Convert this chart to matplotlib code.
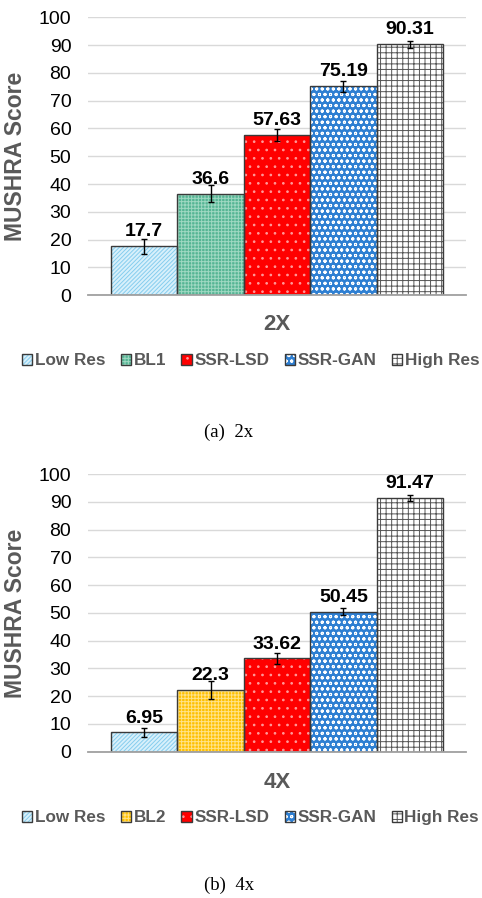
import matplotlib
matplotlib.use("Agg")
import matplotlib.pyplot as plt
import numpy as np

plt.rcParams['font.family'] = ['Liberation Sans', 'DejaVu Sans']
plt.rcParams['hatch.linewidth'] = 0.7

# data
names_2x = ['Low Res', 'BL1', 'SSR-LSD', 'SSR-GAN', 'High Res']
scores_2x = [17.7, 36.6, 57.63, 75.19, 90.31]
errs_2x = [2.7, 3.2, 2.2, 1.9, 1.3]

names_4x = ['Low Res', 'BL2', 'SSR-LSD', 'SSR-GAN', 'High Res']
scores_4x = [6.95, 22.3, 33.62, 50.45, 91.47]
errs_4x = [1.7, 3.3, 2.1, 1.3, 1.1]

yticks = list(range(0, 101, 10))

# style per bar: face, hatch, hatch colour
styles_2x = [('#d8f0fb', '////////', '#86cdee'),
             ('#55b594', '+++++', '#9fd8c2'),
             ('#ff0000', '..', '#ff9a9a'),
             ('#2e7fd2', 'ooo', '#ffffff'),
             ('#ffffff', '+++', '#555555')]
styles_4x = [styles_2x[0],
             ('#ffc000', '+++++', '#ffe38a'),
             styles_2x[2], styles_2x[3], styles_2x[4]]

fig = plt.figure(figsize=(4.82, 8.98), dpi=100)
gray_txt = '#595959'


def draw(ax, names, scores, errs, styles, title, title_y, leg_y, cap, cap_y):
    x = np.arange(len(scores))
    handles = []
    for i in range(len(scores)):
        face, h, hc = styles[i]
        b1 = ax.bar(x[i], scores[i], width=1.0, color=face, hatch=h,
                    edgecolor=hc, linewidth=0, zorder=2)
        b2 = ax.bar(x[i], scores[i], width=1.0, fill=False,
                    edgecolor='#3a3a3a', linewidth=1.0, zorder=3)
        handles.append((b1[0], b2[0]))
    ax.errorbar(x, scores, yerr=errs, fmt='none', ecolor='black',
                elinewidth=1, capsize=2.5, capthick=1, zorder=4)
    for xi, v in zip(x, scores):
        ax.annotate(f'{v:g}', (xi, v), xytext=(0, 7), textcoords='offset points',
                    ha='center', va='baseline', fontsize=14, fontweight='bold')
    ax.set_ylim(0, 100)
    ax.set_xlim(-0.846, len(scores) - 1 + 0.846)
    ax.set_yticks(yticks)
    ax.set_xticks([])
    ax.tick_params(axis='y', length=0, pad=12, labelsize=14)
    ax.grid(axis='y', color='#d9d9d9', linewidth=1, zorder=0)
    ax.set_axisbelow(True)
    for s in ['top', 'right', 'left']:
        ax.spines[s].set_visible(False)
    ax.spines['bottom'].set_color('#a0a0a0')
    ax.spines['bottom'].set_linewidth(1.3)
    ax.spines['bottom'].set_zorder(5)
    ax.set_ylabel('MUSHRA Score', fontsize=16.5, fontweight='bold', color=gray_txt)
    ax.yaxis.set_label_coords(-0.161, 0.5)

    fig.text(0.575, title_y, title, ha='center', va='center', fontsize=16,
             fontweight='bold', color=gray_txt)
    fig.legend(handles, names, loc='center', bbox_to_anchor=(0.52, leg_y),
               ncol=5, frameon=False, handlelength=0.6, handleheight=0.6,
               handletextpad=0.15, columnspacing=0.9, borderpad=0, borderaxespad=0,
               prop={'size': 12.3, 'weight': 'bold'}, labelcolor=gray_txt)
    fig.text(0.475, cap_y, cap, ha='center', va='center', fontsize=13.5,
             family='Liberation Serif')


ax1 = fig.add_axes([0.1826, 0.6712, 0.784, 0.3096])
draw(ax1, names_2x, scores_2x, errs_2x, styles_2x, '2X', 0.6384, 0.598,
     '(a)  2x', 0.519)

ax2 = fig.add_axes([0.1826, 0.1629, 0.784, 0.3092])
draw(ax2, names_4x, scores_4x, errs_4x, styles_4x, '4X', 0.129, 0.0894,
     '(b)  4x', 0.0145)

fig.savefig('out.png', dpi=100)
